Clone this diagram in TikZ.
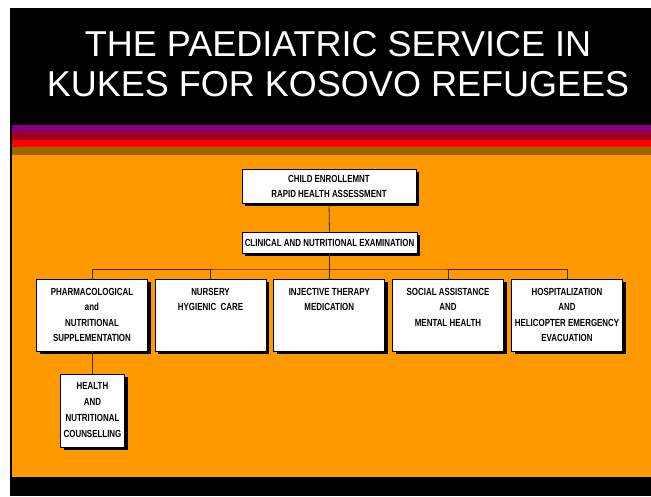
\documentclass[tikz,border=0pt]{standalone}
\usepackage{fontspec}
\setmainfont{Liberation Sans}
\newfontfamily\boxfont{Liberation Sans}[FakeStretch=0.77]
\usetikzlibrary{shadows}
\definecolor{slidepurple}{HTML}{800080}
\definecolor{slidewine}{HTML}{A00020}
\definecolor{slidered}{HTML}{FF0000}
\definecolor{slidebrown}{HTML}{996600}
\definecolor{slideorange}{HTML}{FF9900}
\definecolor{linkcol}{HTML}{402800}
\tikzset{
  chartbox/.style={draw=black, line width=0.8pt, fill=white, inner sep=0pt,
    drop shadow={shadow xshift=3pt, shadow yshift=-3pt, fill=black, opacity=1},
    font=\boxfont\bfseries\fontsize{10.3}{15.5}\selectfont, align=center},
  link/.style={draw=linkcol, line width=0.8pt},
  titletext/.style={text=white, font=\fontsize{36}{40}\selectfont, align=center}
}
\newcommand{\topbox}[3]{\parbox[c][#2][t]{#1}{\centering\rule{0pt}{16pt}#3\par}}
\begin{document}
\begin{tikzpicture}[x=1pt,y=-1pt]
\useasboundingbox (0,0) rectangle (651,496);
\fill[white] (0,0) rectangle (651,496);
\fill[black] (10,8) rectangle (651,496);
\fill[slidepurple] (12,125) rectangle (651,132);
\fill[slidewine] (12,132) rectangle (651,139.5);
\fill[slidered] (12,139.5) rectangle (651,147);
\fill[slidebrown] (12,147) rectangle (651,154.5);
\fill[slideorange] (12,154.5) rectangle (651,477);

\node[titletext] (title) at (338,64) {THE PAEDIATRIC SERVICE IN\\KUKES FOR KOSOVO REFUGEES};

\node[chartbox, minimum width=174pt, minimum height=34pt, font=\boxfont\bfseries\fontsize{10.3}{15}\selectfont] (enrol) at (329,186) {CHILD ENROLLEMNT\\RAPID HEALTH ASSESSMENT};
\node[chartbox, minimum width=175pt, minimum height=21pt] (exam) at (329.5,242.5) {CLINICAL AND NUTRITIONAL EXAMINATION};

\node[chartbox] (pharm) at (92,315) {\topbox{111pt}{72pt}{PHARMACOLOGICAL\\and\\NUTRITIONAL\\SUPPLEMENTATION}};
\node[chartbox] (nurs) at (210.5,315) {\topbox{111pt}{72pt}{NURSERY\\HYGIENIC\ \ CARE}};
\node[chartbox] (inj) at (329.3,315) {\topbox{111pt}{72pt}{INJECTIVE THERAPY\\MEDICATION}};
\node[chartbox] (soc) at (448,315) {\topbox{111pt}{72pt}{SOCIAL ASSISTANCE\\AND\\MENTAL HEALTH}};
\node[chartbox] (hosp) at (567,315) {\topbox{111pt}{72pt}{HOSPITALIZATION\\AND\\HELICOPTER EMERGENCY\\EVACUATION}};

\node[chartbox, minimum width=64pt, minimum height=73pt, font=\boxfont\bfseries\fontsize{10.3}{16}\selectfont] (couns) at (92.5,410.5) {HEALTH\\AND\\NUTRITIONAL\\COUNSELLING};

\coordinate (bus) at (329.5,269);
\draw[link] (enrol.south) -- (exam.north);
\draw[link] (exam.south) -- (bus);
\draw[link] (pharm.north) |- (bus) -| (hosp.north);
\draw[link] (nurs.north) -- (nurs.north |- bus);
\draw[link] (inj.north) -- (inj.north |- bus);
\draw[link] (soc.north) -- (soc.north |- bus);
\draw[link] (pharm.south) -- (pharm.south |- couns.north);
\end{tikzpicture}
\end{document}
